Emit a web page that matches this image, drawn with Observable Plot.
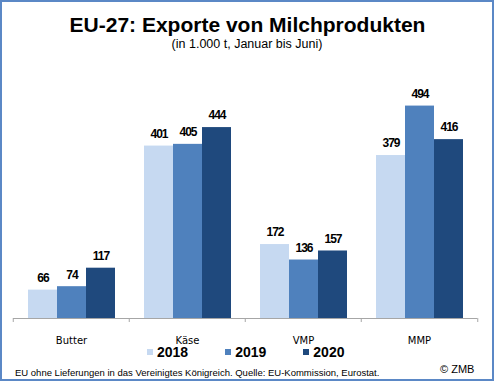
<!DOCTYPE html>
<html><head><meta charset="utf-8">
<script src="https://cdn.jsdelivr.net/npm/d3@7"></script>
<script src="https://cdn.jsdelivr.net/npm/@observablehq/plot@0.6"></script>
<style>
body{margin:0;background:#fff;}
#wrap{position:relative;width:495px;height:383px;overflow:hidden;font-family:"Liberation Sans",Arial,sans-serif;color:#000;}
#border{position:absolute;left:0;top:0;width:490px;height:377px;border:2px solid #5b88c6;}
.t{position:absolute;line-height:1;white-space:nowrap;}
#title{left:0;width:495px;top:14px;text-align:center;font-weight:bold;font-size:21px;}
#subtitle{left:0;width:494px;top:38px;text-align:center;font-size:12.5px;}
#chart{position:absolute;left:0;top:50px;}
#legend{left:147px;top:345px;font-size:14px;font-weight:bold;}
#legend .item{display:inline-block;margin-right:37px;}
#legend .sq{display:inline-block;width:6px;height:6px;margin-right:4px;vertical-align:2px;}
#note{left:15px;top:368px;font-size:9.5px;}
#copy{left:440px;top:364px;font-size:11px;}
</style>
</head><body>
<div id="wrap">
  <div id="border"></div>
  <div class="t" id="title">EU-27: Exporte von Milchprodukten</div>
  <div class="t" id="subtitle">(in 1.000 t, Januar bis Juni)</div>
  <div id="chart"></div>
  <div class="t" id="legend"></div>
  <div class="t" id="note">EU ohne Lieferungen in das Vereinigtes Königreich. Quelle: EU-Kommission, Eurostat.</div>
  <div class="t" id="copy">© ZMB</div>
</div>
<script>
const categories = ["Butter", "Käse", "VMP", "MMP"];
const years = ["2018", "2019", "2020"];
const values2018 = [66, 401, 172, 379];
const values2019 = [74, 405, 136, 494];
const values2020 = [117, 444, 157, 416];
const colors = ["#c6d9f1", "#4f81bd", "#1f497d"];

const series = [values2018, values2019, values2020];
const data = categories.flatMap((cat, i) =>
  series.map((s, j) => ({cat, year: years[j], value: s[i]})));

const W = 495, H = 295, mL = 12, mR = 17, mT = 10, mB = 27;
const step = (W - mL - mR) / categories.length;
const axisGray = "#a6a6a6";

const chart = Plot.plot({
  width: W, height: H,
  marginLeft: mL, marginRight: mR, marginTop: mT, marginBottom: mB,
  style: {fontFamily: "'DejaVu Sans',Verdana,sans-serif", fontSize: "10px", background: "transparent", overflow: "visible", color: "#000"},
  fx: {domain: categories, padding: 0, label: null},
  x: {domain: years, paddingOuter: 0.475, paddingInner: 0, axis: null},
  y: {domain: [0, 600], axis: null},
  color: {domain: years, range: colors},
  marks: [
    Plot.barY(data, {fx: "cat", x: "year", y: "value", fill: "year"}),
    Plot.text(data, {fx: "cat", x: "year", y: "value", text: d => String(d.value), dy: -12,
      fontWeight: "bold", fontSize: 12, fontFamily: "'Liberation Sans',Arial,sans-serif", fill: "#000"}),
    Plot.ruleY([0], {stroke: axisGray}),
    Plot.axisFx({anchor: "bottom", tickSize: 0, tickPadding: 18, label: null, fill: "#000"}),
    Plot.axisFx({anchor: "bottom", text: null, tickSize: 4, dx: -step / 2, stroke: axisGray, label: null}),
    Plot.axisFx({anchor: "bottom", ticks: [categories[categories.length - 1]], text: null, tickSize: 4, dx: step / 2, stroke: axisGray, label: null})
  ]
});
d3.select(chart).selectAll("g[aria-label='text'] text").style("letter-spacing", "-1px");
document.getElementById("chart").appendChild(chart);

const legend = document.getElementById("legend");
years.forEach((y, i) => {
  const item = document.createElement("span");
  item.className = "item";
  const sq = document.createElement("span");
  sq.className = "sq";
  sq.style.background = colors[i];
  item.appendChild(sq);
  item.appendChild(document.createTextNode(y));
  legend.appendChild(item);
});
</script>
</body></html>
